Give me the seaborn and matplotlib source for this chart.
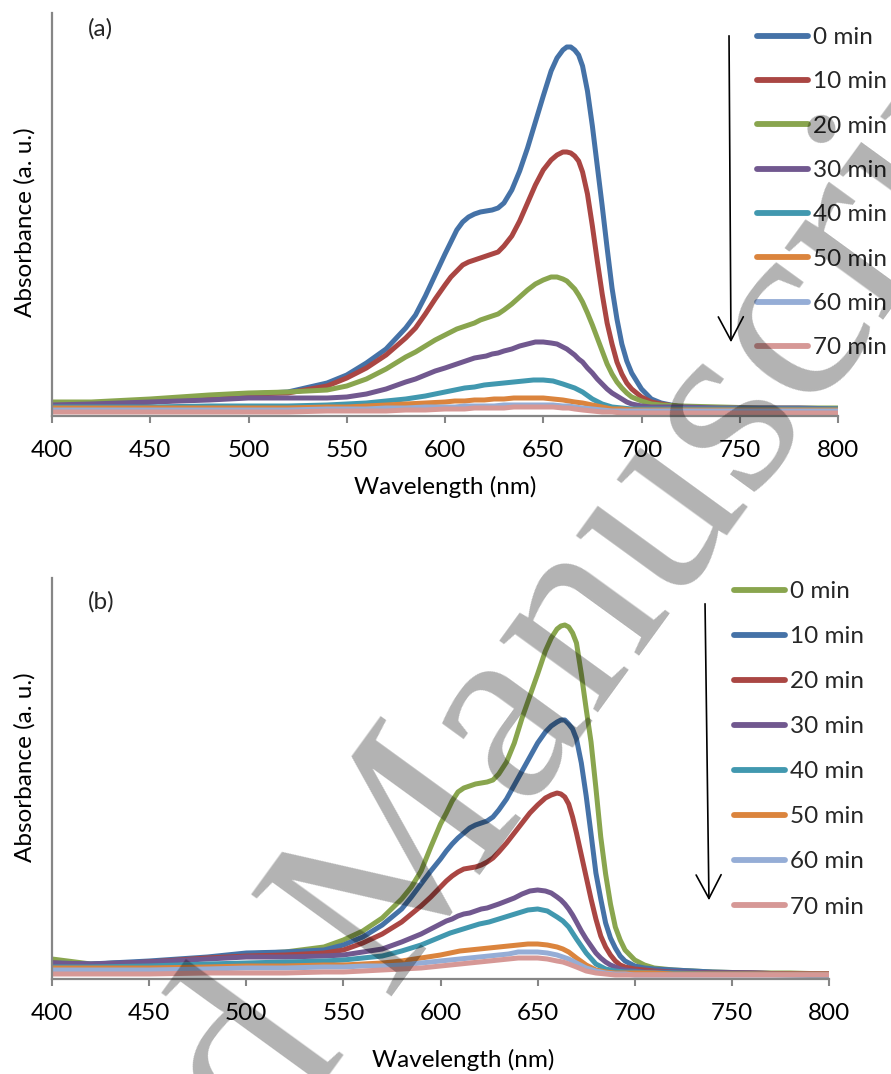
import matplotlib
matplotlib.use("Agg")
import matplotlib.pyplot as plt
import matplotlib.patches as mpatches
import pandas as pd
import seaborn as sns

# ---------------- data ----------------
# dense sampling for the strong bands, coarser for the weak ones
wl_fine = [400, 420, 450, 480, 500, 520, 540, 550, 560, 570, 580, 585, 590, 595, 600, 603, 606,
           609, 612, 615, 618, 621, 624, 627, 630, 634, 638, 642, 646, 650, 654, 657, 660, 662,
           664, 666, 668, 670, 672.5, 675, 677.5, 680, 682.5, 685, 687.5, 690, 692.5, 695, 700,
           705, 710, 720, 740, 760, 780, 800]
wl_coarse = [400, 420, 450, 480, 500, 520, 540, 550, 560, 570, 580, 590, 600, 605, 610,
             615, 620, 625, 630, 635, 640, 645, 650, 655, 660, 663, 666, 670, 675, 680,
             685, 690, 695, 700, 710, 720, 740, 760, 780, 800]
times = ["0 min", "10 min", "20 min", "30 min", "40 min", "50 min", "60 min", "70 min"]

# panel (a) absorbance, arbitrary units
a_0min = [10, 11, 14, 18, 22, 24, 33, 41, 53, 67, 88, 101, 120, 141, 162, 174, 186, 194, 199,
          202, 204, 205, 206, 208, 213, 226, 245, 268, 294, 320, 345, 358, 366, 369, 369, 366,
          361, 350, 325, 290, 250, 210, 168, 128, 97, 72, 55, 43, 27, 17, 13, 9, 8, 7, 7, 6]
a_10min = [10, 11, 14, 18, 22, 23, 30, 38, 48, 61, 78, 88, 102, 117, 131, 139, 145, 151, 154,
           156, 158, 160, 162, 164, 170, 180, 195, 213, 231, 246, 256, 261, 264, 264, 263, 260,
           255, 244, 222, 190, 155, 122, 93, 72, 54, 42, 33, 27, 19, 14, 12, 9, 8, 7, 7, 6]
a_20min = [14, 14, 17, 21, 23, 24, 26, 30, 37, 47, 59, 64, 70, 76, 81, 84, 87, 89, 91, 93, 96,
           98, 100, 102, 106, 112, 119, 126, 132, 136, 139, 139, 137, 135, 131, 127, 121, 114,
           103, 91, 78, 65, 52, 42, 34, 28, 23, 19, 15, 12, 11, 10, 9, 8, 8, 8]
a_30min = [11, 12, 14, 16, 18, 18, 18, 19, 22, 27, 34, 37, 41, 45, 48, 50, 52, 54, 56, 58, 59,
           60, 62, 63, 65, 67, 70, 72, 74, 74, 73, 72, 69, 67, 64, 61, 57, 54, 48, 43, 37, 32,
           27, 23, 20, 17, 14, 12, 10, 9, 9, 9, 8, 8, 8, 7]
a_40min = [9, 9, 9, 10, 10, 10, 11, 12, 13, 15, 17, 20, 24, 26, 28, 29, 31, 32, 33, 34,
           35, 36, 36, 35, 32, 30, 28, 24, 17, 12, 9, 8, 7, 7, 7, 7, 7, 7, 7, 7]
a_50min = [8, 8, 8, 8, 8, 8, 9, 9, 10, 11, 12, 13, 14, 15, 15, 16, 16, 17, 17, 18,
           18, 18, 18, 17, 16, 15, 14, 13, 11, 9, 7, 7, 6, 6, 6, 6, 6, 6, 6, 6]
a_60min = [6, 6, 6, 6, 6, 6, 7, 7, 7, 8, 8, 9, 9, 9, 10, 10, 10, 10, 11, 11,
           11, 11, 11, 11, 10, 10, 9, 8, 7, 6, 5, 5, 5, 5, 5, 5, 5, 5, 5, 5]
a_70min = [4, 4, 4, 4, 4, 4, 5, 5, 5, 5, 6, 6, 7, 7, 7, 8, 8, 8, 8, 9,
           9, 9, 9, 9, 8, 8, 7, 6, 5, 4, 4, 3, 3, 3, 3, 3, 3, 3, 3, 3]

# panel (b) absorbance, arbitrary units
b_0min = [20, 15, 17, 21, 25, 27, 32, 39, 48, 61, 80, 92, 108, 132, 155, 166, 178, 187, 191,
          193, 195, 196, 197, 199, 205, 217, 236, 261, 283, 305, 328, 341, 350, 353, 354, 352,
          346, 336, 305, 270, 237, 191, 142, 105, 75, 52, 39, 29, 19, 14, 11, 9, 7, 6, 6, 5]
b_10min = [16, 15, 18, 22, 26, 27, 29, 34, 42, 54, 70, 82, 95, 108, 120, 128, 135, 141, 146,
           151, 154, 156, 158, 162, 169, 180, 194, 208, 222, 236, 247, 253, 257, 259, 259, 255,
           250, 240, 216, 183, 145, 106, 80, 56, 41, 31, 23, 18, 13, 11, 10, 9, 7, 6, 5, 5]
b_20min = [16, 14, 17, 21, 23, 24, 26, 29, 36, 45, 57, 65, 73, 82, 92, 98, 103, 107, 110, 111,
           112, 114, 117, 121, 127, 136, 146, 156, 166, 174, 181, 184, 186, 185, 182, 175, 162,
           146, 124, 102, 80, 60, 43, 32, 24, 18, 14, 12, 10, 9, 8, 7, 6, 6, 5, 5]
b_30min = [16, 15, 17, 20, 22, 22, 23, 24, 27, 30, 37, 41, 45, 50, 55, 58, 60, 63, 65, 66, 68,
           70, 71, 73, 75, 78, 81, 85, 88, 89, 88, 86, 82, 79, 75, 70, 64, 57, 48, 40, 33, 26,
           21, 17, 14, 12, 10, 9, 8, 7, 7, 7, 6, 6, 5, 5]
b_40min = [12, 12, 13, 15, 16, 17, 18, 19, 21, 23, 28, 34, 42, 46, 49, 52, 55, 57, 60, 63,
           66, 69, 70, 68, 62, 58, 52, 40, 26, 15, 10, 8, 7, 7, 6, 6, 5, 5, 4, 3]
b_50min = [11, 11, 11, 12, 13, 13, 14, 14, 15, 16, 18, 21, 24, 26, 28, 29, 30, 31, 32, 33,
           34, 35, 35, 34, 32, 30, 27, 21, 14, 9, 7, 6, 6, 6, 6, 5, 5, 5, 5, 5]
b_60min = [9, 9, 9, 10, 11, 11, 12, 12, 13, 13, 14, 16, 18, 19, 20, 21, 22, 23, 24, 25,
           27, 27, 27, 26, 24, 22, 20, 16, 11, 8, 6, 5, 5, 4, 4, 4, 4, 4, 4, 4]
b_70min = [5, 5, 5, 6, 6, 6, 7, 7, 8, 9, 10, 11, 13, 14, 15, 16, 17, 18, 19, 20,
           21, 21, 21, 20, 18, 17, 15, 12, 8, 6, 5, 4, 4, 4, 4, 4, 4, 4, 4, 4]

x_ticks = [400, 450, 500, 550, 600, 650, 700, 750, 800]

# ---------------- style ----------------
BLUE, RED, GREEN, PURPLE = "#4572A7", "#AA4643", "#89A54E", "#71588F"
TEAL, ORANGE, LBLUE, PINK = "#4198AF", "#DB843D", "#95ADD6", "#D69896"
colors_a = [BLUE, RED, GREEN, PURPLE, TEAL, ORANGE, LBLUE, PINK]
colors_b = [GREEN, BLUE, RED, PURPLE, TEAL, ORANGE, LBLUE, PINK]
AXIS_GREY = "#868686"
FS = 17.5

sns.set_theme(style="white")
plt.rcParams["font.family"] = ["Lato", "DejaVu Sans"]

W, H = 891, 1074
fig = plt.figure(figsize=(W / 100, H / 100), dpi=100)
fig.patch.set_facecolor("white")


def fx(px):
    return px / W


def fy(py):
    return 1 - py / H


def long_frame(series):
    rows = []
    for t, vals in zip(times, series):
        wl = wl_fine if len(vals) == len(wl_fine) else wl_coarse
        for w, v in zip(wl, vals):
            rows.append({"Wavelength": w, "Absorbance": v, "Time": t})
    return pd.DataFrame(rows)


def draw_panel(rect, series, colors, ytop, tag, tag_xy, xlab_pos, ylab_pos,
               leg_anchor, leg_spacing, arrow_from, arrow_to):
    left, top, right, bottom = rect
    ax = fig.add_axes([fx(left), fy(bottom), (right - left) / W, (bottom - top) / H])
    df = long_frame(series)
    sns.lineplot(data=df, x="Wavelength", y="Absorbance", hue="Time", hue_order=times,
                 palette=colors, linewidth=3.6, sort=False, ax=ax)
    for ln in ax.lines:
        ln.set_solid_capstyle("round")
        ln.set_solid_joinstyle("round")

    ax.set_xlim(400, 800)
    ax.set_ylim(0, ytop)
    ax.set_xticks(x_ticks)
    ax.set_yticks([])
    for s in ("top", "right"):
        ax.spines[s].set_visible(False)
    for s in ("left", "bottom"):
        ax.spines[s].set_color(AXIS_GREY)
        ax.spines[s].set_linewidth(1.6)
    ax.tick_params(axis="x", direction="out", length=5, width=1.5, color=AXIS_GREY,
                   labelsize=FS, labelcolor="black", pad=12.5, bottom=True)
    ax.set_facecolor("white")

    ax.set_xlabel("Wavelength (nm)", fontsize=FS, color="black")
    ax.set_ylabel("Absorbance (a. u.)", fontsize=FS, color="black")
    ax.xaxis.label.set_verticalalignment("center")
    ax.yaxis.label.set_verticalalignment("center")
    ax.xaxis.set_label_coords(*xlab_pos)
    ax.yaxis.set_label_coords(*ylab_pos)

    handles, labels = ax.get_legend_handles_labels()
    leg = ax.legend(handles, labels, loc="upper left", bbox_to_anchor=leg_anchor,
                    bbox_transform=fig.transFigure, frameon=False, fontsize=FS,
                    borderpad=0, borderaxespad=0, handlelength=2.1,
                    handletextpad=0.2, labelspacing=leg_spacing)
    for hl in leg.get_lines():
        hl.set_linewidth(4.2)
        hl.set_solid_capstyle("round")

    fig.text(fx(tag_xy[0]), fy(tag_xy[1]), tag, fontsize=FS, ha="center", va="center")

    fig.add_artist(mpatches.FancyArrowPatch(
        (fx(arrow_from[0]), fy(arrow_from[1])), (fx(arrow_to[0]), fy(arrow_to[1])),
        transform=fig.transFigure, arrowstyle="->,head_length=0.85,head_width=0.45",
        mutation_scale=20, lw=1.2, color="black"))
    return ax


series_a = [a_0min, a_10min, a_20min, a_30min, a_40min, a_50min, a_60min, a_70min]
series_b = [b_0min, b_10min, b_20min, b_30min, b_40min, b_50min, b_60min, b_70min]

draw_panel((52, 13, 838, 416), series_a, colors_a, 403, "(a)", (100, 29),
           (0.5, -0.176), (-0.034, 0.481), (fx(757), fy(27)), 0.96, (729, 33), (731, 345))
draw_panel((52, 578, 829, 979), series_b, colors_b, 401, "(b)", (101, 602),
           (0.529, -0.202), (-0.035, 0.529), (fx(734), fy(581)), 0.99, (705, 601), (709, 903))

# diagonal watermark
WM = dict(fontsize=191, family="Liberation Serif", color="black", alpha=0.30,
          rotation=54, rotation_mode="anchor", va="baseline", zorder=20)
fig.text(fx(384), fy(996), "Manuscript", ha="left", **WM)
fig.text(fx(345), fy(1049), "Accepted", ha="right", **WM)

fig.savefig("out.png", dpi=100, facecolor="white")
